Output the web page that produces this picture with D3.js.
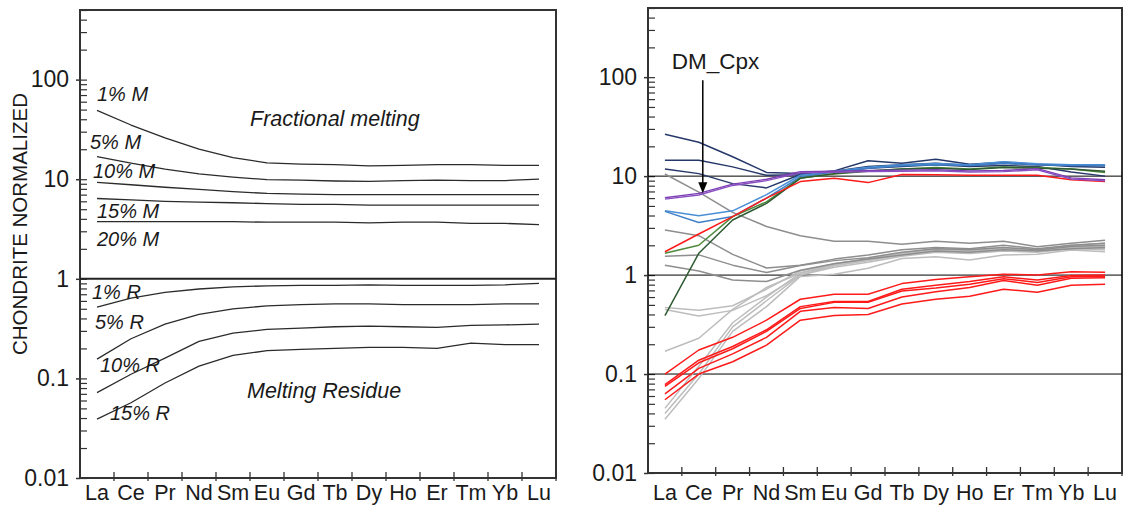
<!DOCTYPE html>
<html>
<head>
<meta charset="utf-8">
<script src="https://cdn.jsdelivr.net/npm/d3@7"></script>
<style>
  body { margin: 0; background: #fff; }
  svg text { font-family: "Liberation Sans", Arial, sans-serif; fill: #1a1a1a; }
</style>
</head>
<body>
<svg id="chart" width="1126" height="507"></svg>
<script>
var elements = ["La", "Ce", "Pr", "Nd", "Sm", "Eu", "Gd", "Tb", "Dy", "Ho", "Er", "Tm", "Yb", "Lu"];
var yMajor = [0.01, 0.1, 1, 10, 100];
var yMajorLabels = ["0.01", "0.1", "1", "10", "100"];
var yMinor = [0.02, 0.03, 0.04, 0.05, 0.06, 0.07, 0.08, 0.09,
  0.2, 0.3, 0.4, 0.5, 0.6, 0.7, 0.8, 0.9,
  2, 3, 4, 5, 6, 7, 8, 9,
  20, 30, 40, 50, 60, 70, 80, 90,
  200, 300, 400, 500];

// left panel: fractional melting (M) and melting residue (R)
var melt1 = [49, 35, 26, 20, 16.5, 14.6, 14.2, 14, 13.6, 13.8, 14, 14, 13.8, 13.8];
var melt5 = [16.9, 14.5, 12.6, 11.3, 10.5, 9.9, 9.8, 9.6, 9.5, 9.7, 9.8, 9.7, 9.7, 10];
var melt10 = [9.3, 8.8, 8.3, 7.9, 7.5, 7.2, 7.1, 7.0, 7.0, 7.0, 7.0, 7.0, 7.0, 7.0];
var melt15 = [6.4, 6.2, 6.0, 5.9, 5.8, 5.7, 5.6, 5.6, 5.5, 5.5, 5.5, 5.5, 5.5, 5.5];
var melt20 = [3.75, 3.75, 3.75, 3.75, 3.75, 3.7, 3.7, 3.7, 3.65, 3.7, 3.7, 3.6, 3.6, 3.5];
var res1 = [0.52, 0.64, 0.73, 0.79, 0.83, 0.85, 0.86, 0.86, 0.87, 0.86, 0.86, 0.86, 0.87, 0.9];
var res5 = [0.156, 0.25, 0.35, 0.44, 0.5, 0.535, 0.55, 0.56, 0.56, 0.55, 0.55, 0.55, 0.56, 0.56];
var res10 = [0.072, 0.11, 0.16, 0.235, 0.285, 0.31, 0.32, 0.33, 0.335, 0.33, 0.325, 0.34, 0.345, 0.35];
var res15 = [0.039, 0.057, 0.09, 0.133, 0.17, 0.19, 0.196, 0.2, 0.205, 0.205, 0.2, 0.226, 0.218, 0.218];

// right panel samples
var gray1 = [10.5, 6.9, 4.3, 3.1, 2.5, 2.2, 2.2, 2.05, 2.2, 2.1, 2.2, 1.93, 2.1, 2.25];
var gray2 = [2.85, 2.5, 1.62, 1.18, 1.26, 1.45, 1.6, 1.8, 1.9, 1.85, 2.0, 1.85, 2.0, 2.1];
var gray3 = [1.55, 1.6, 1.26, 1.06, 1.25, 1.4, 1.5, 1.7, 1.85, 1.8, 1.9, 1.8, 1.95, 2.0];
var gray4 = [1.26, 1.1, 0.89, 0.86, 1.12, 1.3, 1.45, 1.6, 1.75, 1.7, 1.8, 1.75, 1.85, 1.9];
var lgray1 = [0.47, 0.44, 0.49, 0.72, 1.1, 1.3, 1.45, 1.65, 1.8, 1.75, 1.85, 1.8, 1.9, 1.95];
var lgray2 = [0.45, 0.385, 0.44, 0.62, 1.0, 1.2, 1.35, 1.55, 1.7, 1.65, 1.75, 1.7, 1.85, 1.8];
var lgray3 = [0.17, 0.23, 0.45, 0.75, 1.05, 1.25, 1.4, 1.6, 1.75, 1.7, 1.8, 1.75, 1.9, 1.85];
var lgray4 = [0.045, 0.12, 0.33, 0.6, 1.05, 1.3, 1.45, 1.65, 1.85, 1.8, 1.9, 1.8, 2.0, 2.1];
var lgray5 = [0.04, 0.1, 0.3, 0.55, 1.0, 1.25, 1.4, 1.6, 1.8, 1.75, 1.85, 1.75, 1.95, 2.0];
var lgray6 = [0.035, 0.09, 0.27, 0.48, 0.97, 1.02, 1.17, 1.47, 1.53, 1.42, 1.6, 1.62, 1.79, 1.72];
var redLow1 = [0.1, 0.175, 0.235, 0.35, 0.57, 0.64, 0.64, 0.82, 0.9, 0.96, 1.02, 1.0, 1.08, 1.07];
var redLow2 = [0.078, 0.138, 0.19, 0.28, 0.48, 0.54, 0.54, 0.72, 0.79, 0.86, 0.96, 0.89, 0.99, 1.0];
var redLow3 = [0.075, 0.13, 0.18, 0.27, 0.46, 0.53, 0.53, 0.69, 0.74, 0.81, 0.92, 0.84, 0.96, 0.97];
var redLow4 = [0.063, 0.114, 0.16, 0.235, 0.43, 0.47, 0.46, 0.6, 0.68, 0.75, 0.88, 0.79, 0.93, 0.94];
var redLow5 = [0.055, 0.1, 0.133, 0.196, 0.35, 0.39, 0.4, 0.51, 0.57, 0.61, 0.72, 0.67, 0.79, 0.81];
var redTop = [1.72, 2.6, 3.9, 6.0, 8.8, 9.5, 8.6, 10.4, 10.3, 10.2, 10.2, 10.2, 9.2, 8.8];
var navy1 = [26.5, 22, 15.7, 10.9, 10.6, 11.3, 14.3, 13.5, 14.8, 13.2, 13.8, 13.2, 12.5, 12.3];
var navy2 = [14.5, 14.5, 12.4, 10.2, 10.3, 11.2, 12.5, 13, 13.5, 12.8, 13.5, 13, 12.8, 12.8];
var navy3 = [11.8, 10.6, 8.4, 7.6, 10.4, 11.0, 12, 12.5, 13, 12.5, 12.8, 12.5, 11, 10];
var blue1 = [4.46, 3.97, 4.46, 6.5, 10.2, 11.2, 12.3, 13, 13.4, 13, 14, 13.3, 13, 13];
var blue2 = [4.4, 3.4, 3.9, 6, 9.8, 11, 12, 12.7, 13, 12.8, 13.5, 13, 12.8, 12.8];
var green1 = [1.66, 2.0, 3.9, 5.5, 9.6, 10.5, 11.2, 11.8, 12.2, 11.8, 12.4, 12.2, 11.8, 10.9];
var green2 = [0.39, 1.66, 3.6, 5.3, 9.5, 10.6, 11.3, 11.8, 12, 11.7, 12.2, 12, 11.8, 11.2];
var purple1 = [6.05, 6.7, 8.3, 9.3, 11.1, 11.2, 11.4, 11.5, 11.6, 11.3, 11.4, 11.9, 9.6, 9.2];
var purple2 = [5.85, 6.45, 8.05, 9.0, 10.8, 10.9, 11.1, 11.2, 11.3, 11.0, 11.1, 11.6, 9.35, 8.95];

var svg = d3.select("#chart");

var makePanel = function(x0, x1, y0, y1, labelPad) {
  var g = svg.append("g");
  var x = d3.scaleBand().domain(elements).range([x0, x1]).padding(0);
  var y = d3.scaleLog().domain([0.01, 500]).range([y1, y0]);

  // minor ticks (inside)
  g.append("g")
    .attr("transform", "translate(" + x0 + ",0)")
    .call(d3.axisLeft(y).tickValues(yMinor.concat(yMajor)).tickSize(-7).tickFormat(""))
    .call(function(a){ a.select(".domain").remove(); })
    .selectAll("line").attr("stroke", "#333").attr("stroke-width", 1.2);

  // major ticks + labels
  var ya = g.append("g")
    .attr("transform", "translate(" + x0 + ",0)")
    .call(d3.axisLeft(y).tickValues(yMajor).tickSize(4).tickPadding(7)
      .tickFormat(function(d, i){ return yMajorLabels[i]; }));
  ya.select(".domain").remove();
  ya.selectAll("line").attr("stroke", "#333").attr("stroke-width", 1.5);
  ya.selectAll("text").attr("font-size", "23px").attr("fill", "#1a1a1a")
    .attr("font-family", "Liberation Sans, Arial, sans-serif");

  // element labels at band centers
  var xa = g.append("g")
    .attr("transform", "translate(0," + y1 + ")")
    .call(d3.axisBottom(x).tickSize(0).tickPadding(labelPad));
  xa.select(".domain").remove();
  xa.selectAll("text").attr("font-size", "21.5px").attr("fill", "#1a1a1a")
    .attr("font-family", "Liberation Sans, Arial, sans-serif");

  // ticks at band boundaries
  var bounds = elements.map(function(d){ return x(d); }).slice(1).concat([x1]);
  g.selectAll(".xtick").data(bounds).enter().append("line")
    .attr("x1", function(d){ return d; }).attr("x2", function(d){ return d; })
    .attr("y1", y1 - 6).attr("y2", y1 + 3)
    .attr("stroke", "#333").attr("stroke-width", 1.3);

  // frame
  g.append("rect")
    .attr("x", x0).attr("y", y0)
    .attr("width", x1 - x0).attr("height", y1 - y0)
    .attr("fill", "none").attr("stroke", "#333").attr("stroke-width", 2);

  return { g: g, x: x, y: y, x0: x0, x1: x1 };
}

var drawLine = function(p, values, color, width) {
  var bw = p.x.bandwidth() / 2;
  var line = d3.line()
    .x(function(d, i){ return p.x(elements[i]) + bw; })
    .y(function(d){ return p.y(d); });
  p.g.append("path")
    .attr("d", line(values))
    .attr("fill", "none")
    .attr("stroke", color)
    .attr("stroke-width", width || 1.4)
    .attr("stroke-linejoin", "round");
}

var addText = function(p, txt, x, y, size, italic) {
  p.g.append("text")
    .attr("x", x).attr("y", y)
    .attr("font-size", size + "px")
    .attr("font-style", italic ? "italic" : "normal")
    .text(txt);
}

// ---- left panel ----
var left = makePanel(80, 556, 10, 478, 7);

left.g.append("line")
  .attr("x1", left.x0).attr("x2", left.x1)
  .attr("y1", left.y(1)).attr("y2", left.y(1))
  .attr("stroke", "#222").attr("stroke-width", 2);

[melt1, melt5, melt10, melt15, melt20, res1, res5, res10, res15].forEach(function(s){
  drawLine(left, s, "#2b2b2b", 1.3);
});

addText(left, "1% M", 97, 101, 20, true);
addText(left, "5% M", 90, 149, 20, true);
addText(left, "10% M", 93, 178, 20, true);
addText(left, "15% M", 97, 218, 20, true);
addText(left, "20% M", 97, 246, 20, true);
addText(left, "Fractional melting", 250, 126, 21.5, true);
addText(left, "1% R", 92, 299, 20, true);
addText(left, "5% R", 95, 329, 20, true);
addText(left, "10% R", 100, 372, 20, true);
addText(left, "15% R", 110, 420, 20, true);
addText(left, "Melting Residue", 247, 398, 21.5, true);

svg.append("text")
  .attr("transform", "translate(27,224) rotate(-90)")
  .attr("text-anchor", "middle")
  .attr("font-size", "20.5px")
  .text("CHONDRITE NORMALIZED");

// ---- right panel ----
var right = makePanel(648, 1122, 8, 473, 12);

[10, 1, 0.1].forEach(function(v){
  right.g.append("line")
    .attr("x1", right.x0).attr("x2", right.x1)
    .attr("y1", right.y(v)).attr("y2", right.y(v))
    .attr("stroke", "#000").attr("stroke-width", 1);
});

[lgray1, lgray2, lgray3, lgray4, lgray5, lgray6].forEach(function(s){
  drawLine(right, s, "#bdbdbd", 1.5);
});
[gray1, gray2, gray3, gray4].forEach(function(s){
  drawLine(right, s, "#8e8e8e", 1.5);
});
[redLow1, redLow2, redLow3, redLow4, redLow5].forEach(function(s){
  drawLine(right, s, "#ff1a1a", 1.5);
});
drawLine(right, navy1, "#26386a", 1.5);
drawLine(right, navy2, "#26386a", 1.5);
drawLine(right, navy3, "#26386a", 1.5);
drawLine(right, blue1, "#4a8fd6", 1.5);
drawLine(right, blue2, "#3f80c8", 1.5);
drawLine(right, green1, "#4f8a3c", 1.5);
drawLine(right, green2, "#2e5a32", 1.5);
drawLine(right, redTop, "#ff1a1a", 1.5);
drawLine(right, purple1, "#7d3fb3", 1.4);
drawLine(right, purple2, "#8a4fc2", 1.4);

// DM_Cpx arrow
var ax = right.x("Ce") + right.x.bandwidth() / 2 + 4;
var aTop = right.y(93), aTip = right.y(6.7);
right.g.append("line")
  .attr("x1", ax).attr("x2", ax)
  .attr("y1", aTop).attr("y2", aTip - 8)
  .attr("stroke", "#000").attr("stroke-width", 1.5);
right.g.append("path")
  .attr("d", "M" + (ax - 4.5) + "," + (aTip - 11) + "L" + (ax + 4.5) + "," + (aTip - 11) + "L" + ax + "," + aTip + "Z")
  .attr("fill", "#000");
addText(right, "DM_Cpx", ax - 31, right.y(100) - 8, 22.5, false);
</script>
</body>
</html>
